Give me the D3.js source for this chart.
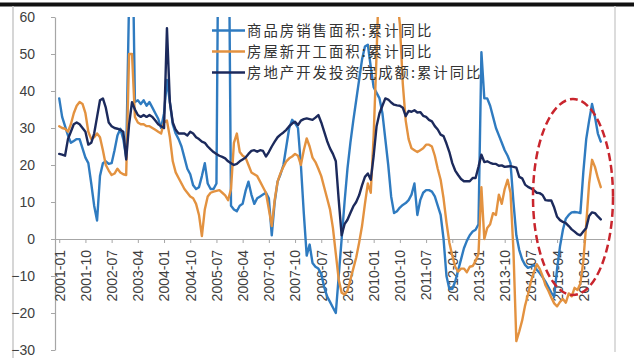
<!DOCTYPE html>
<html><head><meta charset="utf-8">
<script src="https://cdn.jsdelivr.net/npm/d3@7/dist/d3.min.js"></script>
<style>
html,body{margin:0;padding:0;background:#fff;}
svg{display:block;}
</style></head>
<body><svg id="chart" width="634" height="358"></svg>
<script>
const seriesNames = ["商品房销售面积:累计同比", "房屋新开工面积:累计同比", "房地产开发投资完成额:累计同比"];
const seriesColors = ["#2f7bc0", "#e39240", "#1c2a5c"];
const tickLabels = ["2001-01","2001-10","2002-07","2003-04","2004-01","2004-10","2005-07","2006-04","2007-01","2007-10","2008-07","2009-04","2010-01","2010-10","2011-07","2012-04","2013-01","2013-10","2014-07","2015-04","2016-01"];
const yTicks = [-30,-20,-10,0,10,20,30,40,50,60];

// monthly categories 2001-01 .. 2016-07
const categories = [];
for (let yr = 2001; yr <= 2016; yr++) {
  for (let m = 1; m <= 12; m++) {
    if (yr === 2016 && m > 7) break;
    categories.push(yr + "-" + String(m).padStart(2, "0"));
  }
}

const sales = [
38,33,30.5,28,26,26.5,27,27,24.5,22,
20.5,15,9,5,17,20.5,21,20.3,20.5,24,
28,29.8,27,22,65,90,37,37.5,36.5,37.5,
36,37,35.5,34,32.5,30,34,43,37,31,
28.5,27,25,22,19,17.5,14.5,13.5,14,17,
20.5,15,13.5,13.5,15,120,130,125,110,9,
8,7.5,9,9.5,13,15.5,12,9.5,11,11.5,
12,12.5,11,1,10,15.5,17.5,20,25,30,
32.2,31.3,30,20,7,-4.5,-1.5,-6.5,-7.5,-8,
-9.5,-13,-15.5,-17,-18.5,-20,-10,0,10,19,
26,32,37.5,43,48.5,52,52.5,46.5,41,39.5,
38,34,27,20,11.5,7,7.5,8.5,9.2,9.7,
10.5,12,15,6.5,10.5,12.5,13.2,13.2,12.8,11.5,
9,6.5,0,-10,-13.5,-13.5,-11.5,-8.5,-5.5,-2.5,
-0.5,1,2,2.5,4,50.5,38,38,36,33,
30,28,26,24,22.5,20.5,10,1,-3,-5.5,
-7,-7.8,-7.5,-7,-8.3,-9.2,-10.3,-11.5,-13,-14.5,
-15.6,-8,-2,2.5,5.5,6.5,7.2,7.3,7.2,7,
18,27,32,36.5,33,28.5,26.3
];
const starts = [
30.5,30,29.8,29,31,34,36,37,36.5,34,
29,27,27.5,28.5,27.5,24,20,18.5,17.3,17.7,
19,18,17.5,17.3,50,50,33,31.5,31,31,
30.5,30.5,30,29.5,29,28.5,31.5,32,27.5,21,
18,16.5,15,13.5,12.5,11.5,11,9.5,6.5,0.8,
8,11.5,12.5,12.8,13,13.2,12.5,11.8,10.5,13.5,
26,28.5,23.5,22.5,22,20,18,17.5,17,15.5,
14,12.5,8,3.5,10.5,15.5,17.8,19.5,21,21.8,
22.3,23,22.5,20,24,27.2,25,22,20.8,19,
17,14,11,8,3,-4,-11,-14.5,-15,-14,
-11,-8,-5,-1,3.5,9.5,15,12.5,28,50,
75,78,76,74,72,70,66,58,42,32,
27,24.5,24,23.5,24,24.5,25.5,25.5,25,22.5,
19,16,11,4.5,-1,-4.5,-7.5,-8.8,-8,-8,
-9,-7.5,-7.3,-6,-4,14,0,3,4,7,
6.5,12,9.5,13.5,16,12.5,-3,-27.6,-25,-22,
-18,-15,-11.5,-9,-6.8,-8,-10,-12.5,-14,-15.8,
-17.4,-18.2,-17,-16.2,-17.2,-14.7,-15.5,-13.2,-13.8,-12,
-6,4,15,21.4,19.5,16.5,14
];
const invest = [
23,22.8,22.5,27,29,31,31.5,31,30,29,
25.5,26,28.5,33,37.5,38,35.5,31.5,30.5,30,
29.8,29.5,29,21.5,31,37,35,33.5,33,33.5,
33,33.5,33,32,31,30.5,30,57,37,31.5,
29.5,28.5,28.5,28.5,28,29,28.5,27.5,27,26.3,
26,25,24.2,23.5,23,22.5,22.2,21.8,21,20.5,
20,20.3,21,21.5,22,23,23.8,24,23.6,24,
23.8,22.3,23.5,25,26.3,27.5,28.2,28.8,29.5,30.5,
31.2,31.7,30.8,32,32.4,32.6,32.4,32.2,32.8,33.5,
31.5,29,26.5,24.5,23,21,10.5,1,4,5.2,
7,8.8,10,11.8,14.5,16.8,17.7,16,22.5,30.5,
34,36,38,37.7,36.9,36.3,36.1,36,35.5,33.2,
34.6,34.4,34.8,34.2,34.3,33.3,33,32.2,31.8,30.5,
29.6,28.2,27.8,25.8,23.5,20.5,18.5,17.3,16.2,15.6,
15.6,15.6,16.5,16.5,19.5,22.8,20.8,21,20.6,20.3,
20.3,19.8,19.9,19.5,19.6,19.7,19.5,19.3,16.8,16.4,
14.7,14.1,13.7,13.2,12.5,12.4,11.9,10.5,10.4,10.4,
8.5,6,5.1,4.6,4.3,3.5,2.6,2,1.3,1,
2,3,6.2,7.2,7,6.1,5.3
];
const seriesData = [sales, starts, invest];

const svg = d3.select("#chart");
const W = 634, H = 358;

// page frame
svg.append("rect").attr("x",0).attr("y",0).attr("width",W).attr("height",H).attr("fill","#fff");
svg.append("rect").attr("x",0).attr("y",2.5).attr("width",W).attr("height",4).attr("fill","#111");
svg.append("line").attr("x1",13).attr("x2",13).attr("y1",6).attr("y2",H).attr("stroke","#c8c8c8").attr("stroke-width",1.5);
svg.append("line").attr("x1",615).attr("x2",615).attr("y1",6).attr("y2",352).attr("stroke","#d0d0d0").attr("stroke-width",1.5);

const x = d3.scalePoint().domain(categories).range([55, 605]).padding(1.45);
const y = d3.scaleLinear().domain([-30, 60]).range([350, 17]);

const axisColor = "#a6a6a6";
const labelColor = "#404040";

// y axis
const yAxis = svg.append("g").attr("transform", "translate(55,0)")
  .call(d3.axisLeft(y).tickValues(yTicks).tickSize(4).tickSizeOuter(0).tickPadding(16).tickFormat(d3.format("d")));
yAxis.select(".domain").attr("stroke", axisColor).attr("stroke-width", 1.2);
yAxis.selectAll(".tick line").attr("stroke", axisColor);
yAxis.selectAll(".tick text").attr("fill", labelColor)
  .style("font-family", "'Liberation Sans', Arial, sans-serif").style("font-size", "14px");

// x axis at zero
const xAxis = svg.append("g").attr("transform", `translate(0,${y(0)})`)
  .call(d3.axisBottom(x).tickValues(tickLabels).tickSize(4).tickSizeOuter(0));
xAxis.select(".domain").attr("stroke", axisColor).attr("stroke-width", 1.2);
xAxis.selectAll(".tick line").attr("stroke", axisColor);
xAxis.selectAll(".tick text")
  .attr("fill", labelColor)
  .attr("transform", "rotate(-90)")
  .attr("text-anchor", "end")
  .attr("x", -11).attr("y", 0).attr("dy", "0.35em")
  .style("font-family", "'Liberation Sans', Arial, sans-serif").style("font-size", "14px");

// clip
svg.append("clipPath").attr("id", "plotclip").append("rect")
  .attr("x", 55).attr("y", y(60)).attr("width", 560).attr("height", y(-30) - y(60));

const line = d3.line()
  .x((d, i) => x(categories[i]))
  .y(d => y(d));

const plot = svg.append("g").attr("clip-path", "url(#plotclip)");
seriesData.forEach((s, k) => {
  plot.append("path").datum(s)
    .attr("fill", "none")
    .attr("stroke", seriesColors[k])
    .attr("stroke-width", 2.4)
    .attr("stroke-linejoin", "round")
    .attr("stroke-linecap", "round")
    .attr("d", line);
});

// legend
const legend = svg.append("g");
seriesNames.forEach((name, k) => {
  const ly = 30.5 + k * 21;
  legend.append("line").attr("x1", 212).attr("x2", 245).attr("y1", ly).attr("y2", ly)
    .attr("stroke", seriesColors[k]).attr("stroke-width", 2.5);
  legend.append("text").attr("x", 247).attr("y", ly).attr("dy", "0.36em")
    .attr("fill", "#333")
    .style("font-family", "'Noto Sans CJK SC', sans-serif")
    .style("font-size", "14.4px")
    .style("letter-spacing", "2px")
    .text(name);
});

// red dashed ellipse annotation
svg.append("ellipse").attr("cx", 573).attr("cy", 197).attr("rx", 40).attr("ry", 98)
  .attr("fill", "none").attr("stroke", "#c9252d").attr("stroke-width", 2.5)
  .attr("stroke-dasharray", "8,4");
</script>
</body></html>
